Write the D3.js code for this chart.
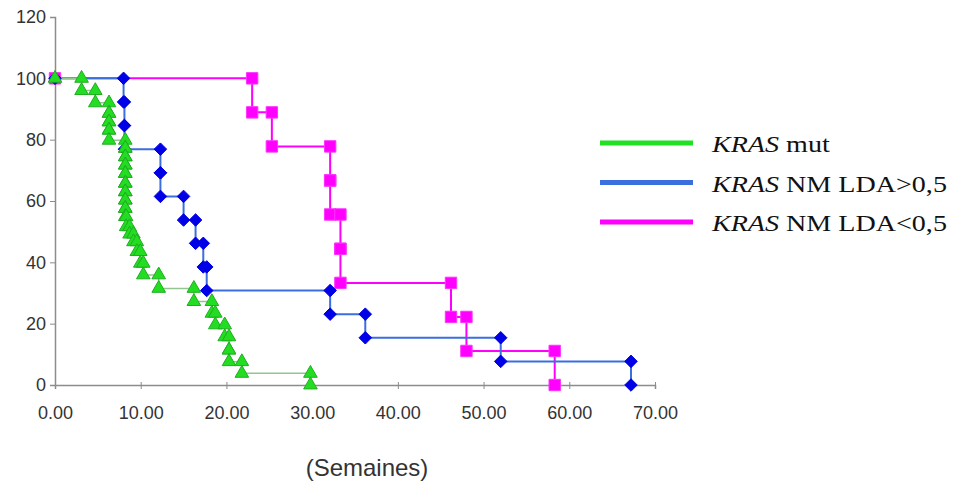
<!DOCTYPE html>
<html>
<head>
<meta charset="utf-8">
<script src="https://cdn.jsdelivr.net/npm/d3@7"></script>
<style>
  body { margin: 0; background: #fff; }
</style>
</head>
<body>
<div id="chart"></div>
<script>
// survival curves: event times (weeks) and survival (%) after each event
var mutTimes = [3.1, 4.7, 6.3, 6.3, 6.3, 6.3, 8.2, 8.2, 8.2, 8.2, 8.2, 8.2, 8.2, 8.2, 8.2, 8.3,
                8.7, 9.15, 9.55, 9.95, 10.3, 12.1, 16.2, 18.3, 18.7, 19.8, 20.3, 20.3, 21.8, 29.8];
var mutSurv  = [96, 92, 88.6, 85.8, 83.1, 79.8, 77.2, 74.4, 71.7, 69.0, 65.8, 63.0, 60.3, 57.6, 54.9, 51.6,
                49.2, 46.7, 43.5, 39.7, 35.9, 31.5, 27.2, 23.4, 19.6, 15.7, 11.4, 7.6, 3.8, 0];

var highTimes = [8.0, 8.1, 8.1, 12.3, 12.3, 15.0, 16.4, 17.3, 17.7, 32.1, 36.2, 52.0, 67.2];
var highSurv  = [92.3, 84.6, 76.9, 69.2, 61.5, 53.8, 46.2, 38.5, 30.8, 23.1, 15.4, 7.7, 0];

var lowTimes = [23.0, 25.3, 32.1, 32.1, 33.3, 33.3, 46.2, 48.0, 58.3];
var lowSurv  = [88.9, 77.8, 66.7, 55.6, 44.4, 33.3, 22.2, 11.1, 0];

var xTicks = [0, 10, 20, 30, 40, 50, 60, 70];
var yTicks = [0, 20, 40, 60, 80, 100, 120];

var series = [
    {name: " NM LDA<0,5", times: lowTimes, surv: lowSurv, line: "#ff00ff", lineW: 2,
        marker: "#ff00ff", stroke: "#ff33ff", symbol: d3.symbolSquare, size: 130, legend: "#ff00ff"},
    {name: " NM LDA>0,5", times: highTimes, surv: highSurv, line: "#3b6fe0", lineW: 2,
        marker: "#0000e6", stroke: "#0000e6", symbol: d3.symbolDiamond2, size: 100, legend: "#3b6fe0"},
    {name: " mut", times: mutTimes, surv: mutSurv, line: "#93c593", lineW: 1.5,
        marker: "#22dd22", stroke: "#1fae1f", symbol: d3.symbolTriangle, size: 80, legend: "#22e022"}
];

var width = 955, height = 487;
var svg = d3.select("#chart").append("svg")
    .attr("width", width)
    .attr("height", height);

var x = d3.scaleLinear().domain([0, 70]).range([55, 655]);
var y = d3.scaleLinear().domain([0, 120]).range([385, 17]);

// step points: (t, before) then (t, after)
series.forEach(function (s) {
    var pts = [[0, 100]], prev = 100;
    s.times.forEach(function (t, i) {
        pts.push([t, prev]);
        pts.push([t, s.surv[i]]);
        prev = s.surv[i];
    });
    s.points = pts;
});

// axes
var xAxis = svg.append("g")
    .attr("transform", "translate(0,385)")
    .call(d3.axisBottom(x).tickValues(xTicks).tickSize(4).tickFormat(d3.format(".2f")));
var yAxis = svg.append("g")
    .attr("transform", "translate(55,0)")
    .call(d3.axisLeft(y).tickValues(yTicks).tickSize(5));

[xAxis, yAxis].forEach(function (g) {
    g.attr("font-family", "Arial, 'Liberation Sans', sans-serif").attr("font-size", 18);
    g.select(".domain").attr("stroke", "#8c8c8c").attr("stroke-width", 1.5);
    g.selectAll(".tick line").attr("stroke", "#8c8c8c");
    g.selectAll(".tick text").attr("fill", "#333");
});
xAxis.selectAll(".tick line").attr("y1", -3);
xAxis.selectAll(".tick text").attr("y", 21);
yAxis.selectAll(".tick text").attr("x", -9);

svg.append("text")
    .attr("x", 367)
    .attr("y", 476)
    .attr("text-anchor", "middle")
    .attr("fill", "#333")
    .attr("font-family", "Arial, 'Liberation Sans', sans-serif")
    .attr("font-size", 24)
    .text("(Semaines)");

var line = d3.line()
    .x(function (d) { return x(d[0]); })
    .y(function (d) { return y(d[1]); });

svg.selectAll(".curve")
    .data(series)
    .enter().append("path")
    .attr("class", "curve")
    .attr("d", function (s) { return line(s.points); })
    .attr("fill", "none")
    .attr("stroke", function (s) { return s.line; })
    .attr("stroke-width", function (s) { return s.lineW; });

series.forEach(function (s) {
    svg.append("g").selectAll("path")
        .data(s.points)
        .enter().append("path")
        .attr("transform", function (d) {
            return "translate(" + x(d[0]) + "," + y(d[1]) + ")";
        })
        .attr("d", d3.symbol().type(s.symbol).size(s.size))
        .attr("fill", s.marker)
        .attr("stroke", s.stroke)
        .attr("stroke-width", 1);
});

// legend
var legendOrder = [series[2], series[1], series[0]];
var legend = svg.append("g").selectAll("g")
    .data(legendOrder)
    .enter().append("g")
    .attr("transform", function (d, i) { return "translate(600," + (143 + i * 39.5) + ")"; });

legend.append("line")
    .attr("x1", 0).attr("x2", 93)
    .attr("stroke", function (d) { return d.legend; })
    .attr("stroke-width", 5);

// the source picture is stretched sideways, so widen the serif text a bit
var lt = legend.append("text")
    .attr("transform", "translate(112,9) scale(1.17,1)")
    .attr("font-family", "'Liberation Serif', 'DejaVu Serif', serif")
    .attr("font-size", 24)
    .attr("fill", "#111");
lt.append("tspan").attr("font-style", "italic").text("KRAS");
lt.append("tspan").text(function (d) { return d.name; });
</script>
</body>
</html>
